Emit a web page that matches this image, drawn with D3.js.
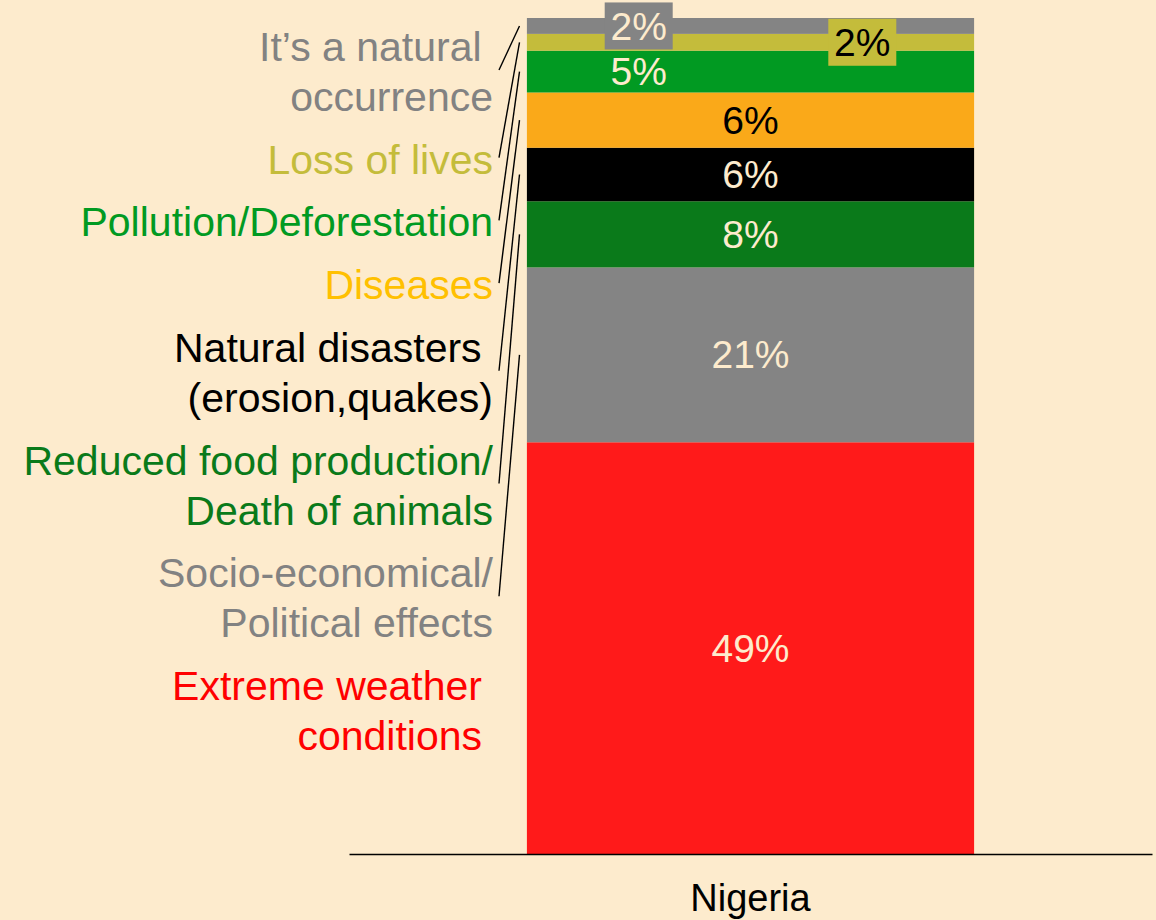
<!DOCTYPE html>
<html>
<head>
<meta charset="utf-8">
<script src="https://cdn.jsdelivr.net/npm/d3@7"></script>
<style>
  html, body { margin: 0; padding: 0; background: #fdebcd; }
  svg { display: block; font-family: "Liberation Sans", Arial, sans-serif; }
  text { white-space: pre; }
</style>
</head>
<body>
<div id="chart"></div>
<script>
// stack order, bottom to top
var country = ["Nigeria"];
var categories = ["Extreme weather conditions", "Socio-economical/Political effects",
  "Reduced food production/Death of animals", "Natural disasters (erosion,quakes)",
  "Diseases", "Pollution/Deforestation", "Loss of lives", "It's a natural occurrence"];
var values = [49.2, 20.9, 7.9, 6.4, 6.6, 5.0, 2.0, 1.9];
var valueLabels = ["49%", "21%", "8%", "6%", "6%", "5%", "2%", "2%"];
var labelLines = [
  ["Extreme weather", "conditions"],
  ["Socio-economical/", "Political effects"],
  ["Reduced food production/", "Death of animals"],
  ["Natural disasters ", "(erosion,quakes)"],
  ["Diseases"],
  ["Pollution/Deforestation"],
  ["Loss of lives"],
  ["It\u2019s a natural ", "occurrence"]
];

var barColors = ["#ff1a1a", "#848484", "#0a7a1a", "#000000", "#faa919", "#019a22", "#c4bc3b", "#848484"];
var textColors = ["#ff0000", "#828282", "#0a7a1a", "#000000", "#ffc000", "#019a22", "#c4bc3b", "#828282"];
var valueTextColors = ["#fdebcd", "#fdebcd", "#fdebcd", "#fdebcd", "#000000", "#fdebcd", "#000000", "#fdebcd"];
var valueXFrac = [0.5, 0.5, 0.5, 0.5, 0.5, 0.25, 0.75, 0.25];
var valueBox = [false, false, false, false, false, false, true, true];

var width = 1156, height = 920;
var svg = d3.select("#chart").append("svg")
  .attr("width", width)
  .attr("height", height);

svg.append("rect").attr("width", width).attr("height", height).attr("fill", "#fdebcd");

var x = d3.scaleBand().domain(country).range([349, 1152]).padding(0.2846);
var total = d3.sum(values);
var y = d3.scaleLinear().domain([0, total]).range([854, 18]);

// cumulative stack
var segs = [];
var acc = 0;
values.forEach(function(v, i) {
  segs.push({i: i, y0: acc, y1: acc + v});
  acc += v;
});

var bx = x("Nigeria"), bw = x.bandwidth();

svg.selectAll(".seg")
  .data(segs)
  .enter().append("rect")
  .attr("class", "seg")
  .attr("x", bx)
  .attr("width", bw)
  .attr("y", function(d) { return y(d.y1); })
  .attr("height", function(d) { return y(d.y0) - y(d.y1); })
  .attr("fill", function(d) { return barColors[d.i]; });

// value labels
var vg = svg.append("g").attr("font-size", 39);
segs.forEach(function(d) {
  var cx = bx + bw * valueXFrac[d.i];
  var cy = (y(d.y0) + y(d.y1)) / 2;
  var t = vg.append("text")
    .attr("x", cx)
    .attr("y", cy)
    .attr("dy", "0.35em")
    .attr("text-anchor", "middle")
    .attr("fill", valueTextColors[d.i])
    .text(valueLabels[d.i]);
  if (valueBox[d.i]) {
    var bb = t.node().getBBox();
    vg.insert("rect", function() { return t.node(); })
      .attr("x", cx - 34)
      .attr("y", cy - 23.5)
      .attr("width", 68)
      .attr("height", 47)
      .attr("fill", barColors[d.i]);
  }
});

// axis
var axis = svg.append("g")
  .attr("transform", "translate(0,854)")
  .call(d3.axisBottom(x).tickSize(0).tickPadding(30));
axis.select(".domain").attr("stroke", "#000").attr("stroke-width", 1.5);
axis.selectAll("text").attr("font-size", 38).attr("fill", "#000")
  .style("font-family", "Liberation Sans, Arial, sans-serif");

// category labels, listed top to bottom on the left
var lg = svg.append("g").attr("font-size", 41);
var order = d3.range(categories.length).reverse();
var lineNo = 0;
order.forEach(function(ci, k) {
  var lines = labelLines[ci];
  var baseY = 61 + lineNo * 50 + k * 12.7;
  var ax = ci === 0 ? 482 : 493;
  var t = lg.append("text")
    .attr("text-anchor", "end")
    .attr("fill", textColors[ci]);
  lines.forEach(function(s, j) {
    t.append("tspan").attr("x", ax).attr("y", baseY + j * 50).text(s);
  });
  lineNo += lines.length;
  if (ci !== 0) {
    var s = segs[ci];
    var ly = baseY + (lines.length > 1 ? 9 : -16);
    svg.append("line")
      .attr("x1", 499).attr("y1", ly)
      .attr("x2", 519.5).attr("y2", (y(s.y0) + y(s.y1)) / 2)
      .attr("stroke", "#000")
      .attr("stroke-width", 1.4);
  }
});
</script>
</body>
</html>
